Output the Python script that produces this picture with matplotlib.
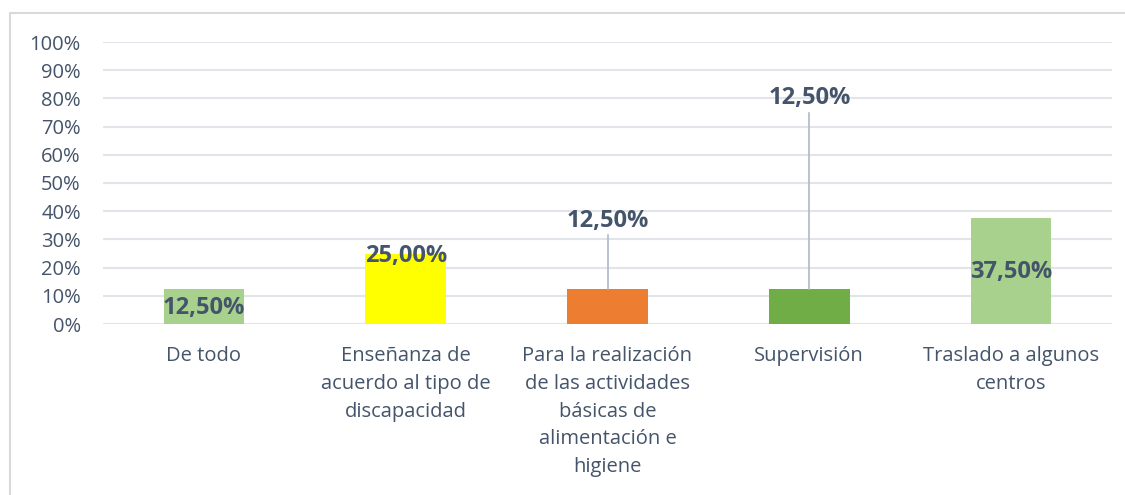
import matplotlib.pyplot as plt
from matplotlib.patches import Rectangle

categories = [
    "De todo",
    "Enseñanza de\nacuerdo al tipo de\ndiscapacidad",
    "Para la realización\nde las actividades\nbásicas de\nalimentación e\nhigiene",
    "Supervisión",
    "Traslado a algunos\ncentros",
]
values = [0.125, 0.25, 0.125, 0.125, 0.375]
labels = ["12,50%", "25,00%", "12,50%", "12,50%", "37,50%"]
colors = ["#A9D18E", "#FFFF00", "#ED7D31", "#70AD47", "#A9D18E"]
# label y-position (axis fraction) for each bar's data label
label_y = [0.055, 0.24, 0.365, 0.80, 0.185]
leader = [False, False, True, True, False]

text_color = "#44546A"
grid_color = "#E1E5EA"

plt.rcParams["font.family"] = ["Open Sans", "DejaVu Sans"]

fig = plt.figure(figsize=(11.25, 4.95), dpi=100)
ax = fig.add_axes([103 / 1125, 1 - 324 / 495, (1112 - 103) / 1125, (324 - 42) / 495])

x = list(range(len(categories)))
ax.bar(x, values, width=0.4, color=colors, zorder=2)

for i, (v, lab, ly, ld) in enumerate(zip(values, labels, label_y, leader)):
    ax.text(i, ly, lab, ha="center", va="center", fontsize=17,
            fontweight="bold", color=text_color, zorder=4)
    if ld:
        ax.plot([i, i], [v, ly - 0.05], color="#ADB9CA", lw=1.2, zorder=3)

ax.set_xlim(-0.5, len(categories) - 0.5)
ax.set_ylim(0, 1)
ax.set_yticks([i / 10 for i in range(11)])
ax.set_yticklabels([f"{i * 10}%" for i in range(11)], fontsize=14.5, color=text_color)
ax.set_xticks(x)
ax.set_xticklabels(categories, fontsize=14.5, color=text_color, linespacing=1.51,
                   va="top")
ax.tick_params(axis="both", length=0)
ax.tick_params(axis="y", pad=16)
ax.tick_params(axis="x", pad=16)
ax.yaxis.grid(True, color=grid_color, lw=1.5, zorder=0)
for s in ax.spines.values():
    s.set_visible(False)

# outer chart border
fig.patches.append(Rectangle((10 / 1125, -0.1), 1.2, 1 - 13 / 495 + 0.1,
                             transform=fig.transFigure, fill=False,
                             edgecolor="#D9D9D9", lw=1.5))

fig.savefig("out.png", dpi=100)
